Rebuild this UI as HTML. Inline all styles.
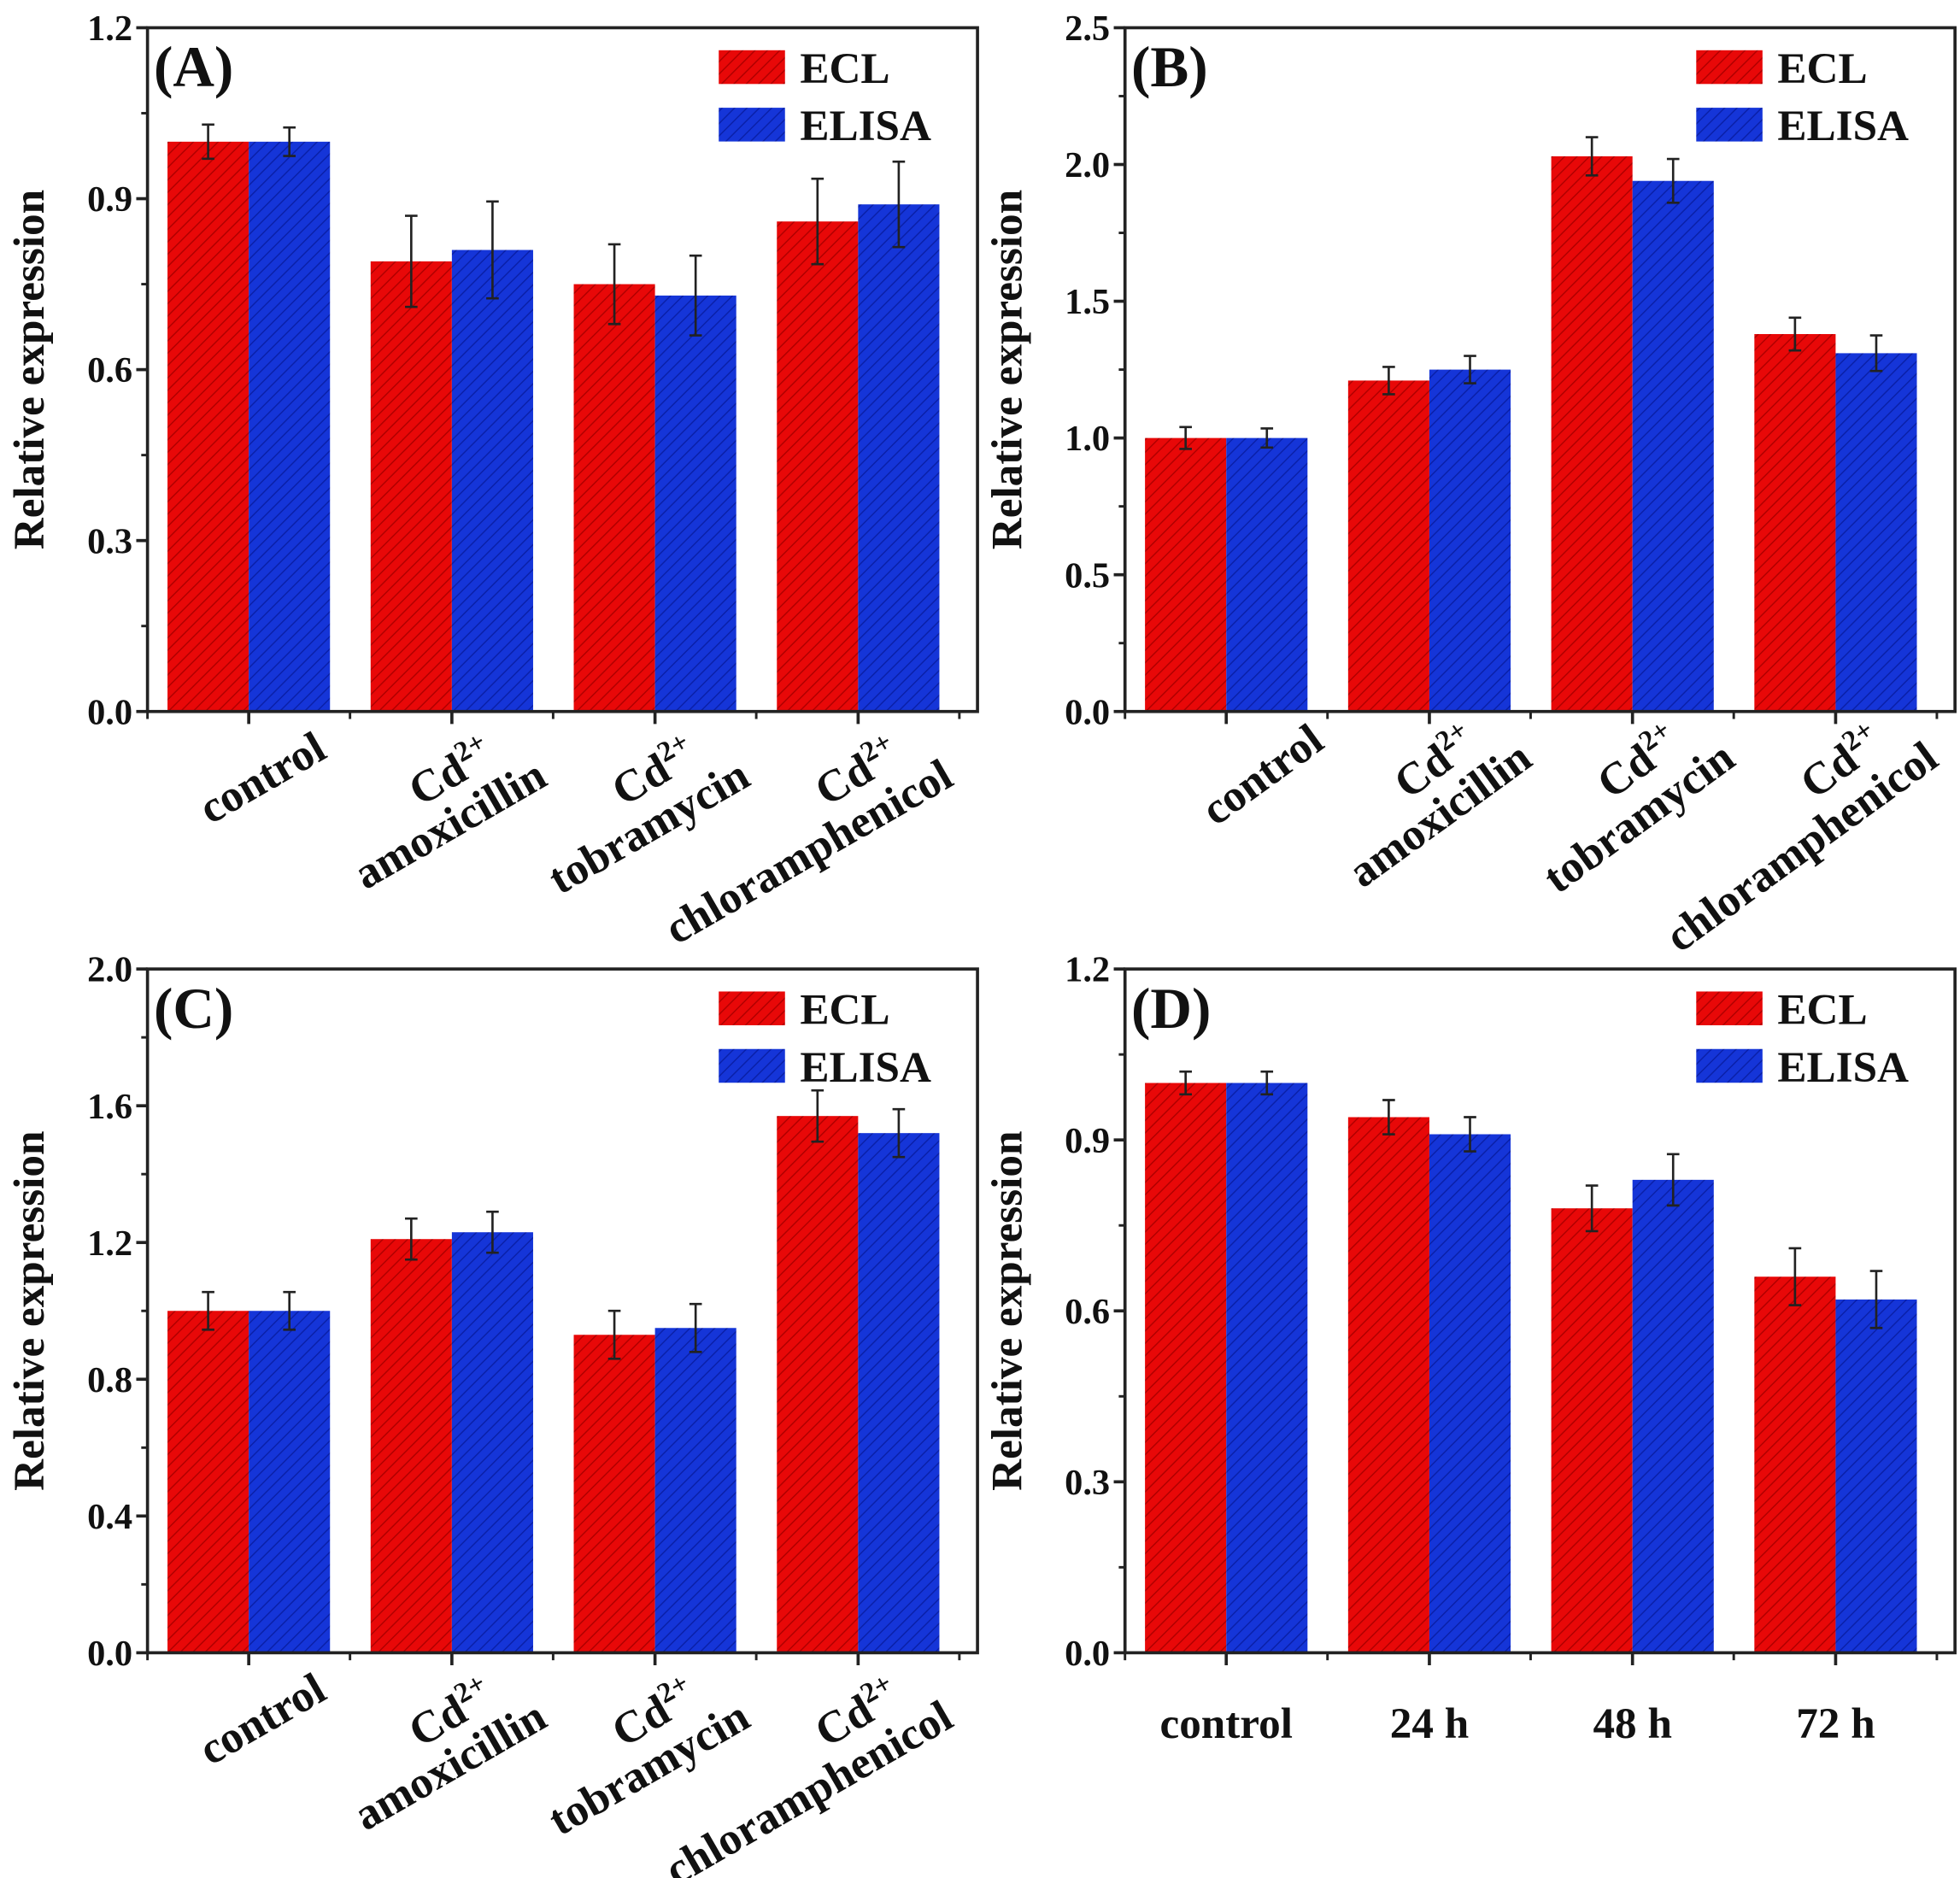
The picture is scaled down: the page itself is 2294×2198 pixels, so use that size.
<!DOCTYPE html>
<html><head><meta charset="utf-8"><style>
html,body{margin:0;padding:0;background:#fff}
svg{display:block}
text{font-family:"Liberation Serif",serif;font-weight:bold;fill:#111}
</style></head><body>
<svg id="fig" xmlns="http://www.w3.org/2000/svg" width="2294" height="2198" viewBox="0 0 1568 1502">
<defs>
<pattern id="hatchR" patternUnits="userSpaceOnUse" width="7" height="7" patternTransform="rotate(45)">
<rect width="7" height="7" fill="#e80808"/><line x1="0" y1="0" x2="0" y2="7" stroke="#b00000" stroke-width="2"/></pattern>
<pattern id="hatchB" patternUnits="userSpaceOnUse" width="7" height="7" patternTransform="rotate(45)">
<rect width="7" height="7" fill="#1535d8"/><line x1="0" y1="0" x2="0" y2="7" stroke="#0a20a8" stroke-width="2"/></pattern>
</defs>
</svg>
<script>
const catsDrug = [["control"],["Cd2+","amoxicillin"],["Cd2+","tobramycin"],["Cd2+","chloramphenicol"]];
const catsTime = ["control","24 h","48 h","72 h"];
const eclA = [1.0,0.79,0.75,0.86];
const eclAErr = [0.03,0.08,0.07,0.075];
const elisaA = [1.0,0.81,0.73,0.89];
const elisaAErr = [0.025,0.085,0.07,0.075];
const eclB = [1.0,1.21,2.03,1.38];
const eclBErr = [0.04,0.05,0.07,0.06];
const elisaB = [1.0,1.25,1.94,1.31];
const elisaBErr = [0.035,0.05,0.08,0.065];
const eclC = [1.0,1.21,0.93,1.57];
const eclCErr = [0.055,0.06,0.07,0.075];
const elisaC = [1.0,1.23,0.95,1.52];
const elisaCErr = [0.055,0.06,0.07,0.07];
const eclD = [1.0,0.94,0.78,0.66];
const eclDErr = [0.02,0.03,0.04,0.05];
const elisaD = [1.0,0.91,0.83,0.62];
const elisaDErr = [0.02,0.03,0.045,0.05];
const ticksA = ["0.0","0.3","0.6","0.9","1.2"];
const ticksB = ["0.0","0.5","1.0","1.5","2.0","2.5"];
const ticksC = ["0.0","0.4","0.8","1.2","1.6","2.0"];
const ticksD = ["0.0","0.3","0.6","0.9","1.2"];

const NS="http://www.w3.org/2000/svg";
const svg=document.getElementById('fig');
function mk(tag,attrs,parent){const e=document.createElementNS(NS,tag);for(const k in attrs)e.setAttribute(k,attrs[k]);(parent||svg).appendChild(e);return e;}

function panel(p){
  const g=mk('g',{});
  
  
  const L=p.x,R=p.x+664,T=p.y,B=p.y+547;
  const ymax=parseFloat(p.ticks[p.ticks.length-1]);
  const ys=v=>B-(v/ymax)*(B-T);
  const xc=i=>L+81+i*162.5;
  const bw=65;
  const series=[{v:p.ecl,e:p.eclErr,f:'url(#hatchR)',n:'ecl',o:-1},{v:p.elisa,e:p.elisaErr,f:'url(#hatchB)',n:'elisa',o:0}];
  series.forEach(s=>{
    s.v.forEach((v,i)=>{
      const x=xc(i)+s.o*bw;
      const r=mk('rect',{x:x,y:ys(v),width:bw,height:B-ys(v),fill:s.f},g);
      
      
      const cx=x+bw/2, hi=ys(v+s.e[i]), lo=ys(v-s.e[i]);
      const eb=mk('path',{d:`M${cx},${hi}V${lo}M${cx-5},${hi}H${cx+5}M${cx-5},${lo}H${cx+5}`,stroke:'#222','stroke-width':1.8,fill:'none'},g);
      
      
    });
  });
  const fr=mk('rect',{x:L,y:T,width:R-L,height:B-T,fill:'none',stroke:'#222','stroke-width':2.5},g);
  
  
  p.ticks.forEach((t,k)=>{
    const v=parseFloat(t), y=ys(v);
    mk('line',{x1:L-9,x2:L,y1:y,y2:y,stroke:'#222','stroke-width':2.5},g);
    if(k<p.ticks.length-1){const ym=ys(v+ymax/(p.ticks.length-1)/2);mk('line',{x1:L-5,x2:L,y1:ym,y2:ym,stroke:'#222','stroke-width':2},g);}
    const tx=mk('text',{x:L-12,y:y+10,'text-anchor':'end','font-size':29},g);
    tx.textContent=t;
    
    
  });
  for(let i=0;i<4;i++){
    mk('line',{x1:xc(i),x2:xc(i),y1:B,y2:B+10,stroke:'#222','stroke-width':2.5},g);
    mk('line',{x1:xc(i)+81,x2:xc(i)+81,y1:B,y2:B+6,stroke:'#222','stroke-width':2},g);
  }
  mk('line',{x1:L,x2:L,y1:B,y2:B+6,stroke:'#222','stroke-width':2},g);
  const yt=mk('text',{x:0,y:0,'text-anchor':'middle','font-size':35,transform:`translate(${L-83},${(T+B)/2}) rotate(-90)`},g);
  yt.textContent='Relative expression';
  
  
  const pl=mk('text',{x:L+5,y:T+47,'font-size':46},g);
  pl.textContent='('+p.id+')';
  
  
  [['ECL','url(#hatchR)'],['ELISA','url(#hatchB)']].forEach((l,k)=>{
    const lx=R-207, ly=T+18+k*46;
    const lr=mk('rect',{x:lx,y:ly,width:53,height:27,fill:l[1]},g);
    
    
    const lt=mk('text',{x:lx+65,y:ly+26,'font-size':35},g);
    lt.textContent=l[0];
    
    
  });
  if(p.time){
    catsTime.forEach((c,i)=>{
      const t=mk('text',{x:xc(i),y:B+68,'text-anchor':'middle','font-size':35},g);
      t.textContent=c;
      
      
    });
  } else {
    catsDrug.forEach((c,i)=>{
      const tx=c.length===1?p.cx1:p.cx2, ty=c.length===1?p.cy1:p.cy2;
      const lg=mk('g',{transform:`translate(${xc(i)+tx},${B+ty}) rotate(${p.rot})`},g);
      
      
      if(c.length===1){
        const t=mk('text',{x:0,y:0,'text-anchor':'end','font-size':36},lg);t.textContent=c[0];
      } else {
        const t1=mk('text',{x:-28,y:-36,'text-anchor':'end','font-size':36},lg);
        t1.textContent='Cd';
        const sup=mk('tspan',{dy:-14,'font-size':23},t1);sup.textContent='2+';
        const t2=mk('text',{x:0,y:0,'text-anchor':'end','font-size':36},lg);t2.textContent=c[1];
      }
    });
  }
}
panel({id:'A',x:118,y:22,ticks:ticksA,ecl:eclA,eclErr:eclAErr,elisa:elisaA,elisaErr:elisaAErr,rot:-30,cx1:64,cy1:36,cx2:78,cy2:58});
panel({id:'B',x:900,y:22,ticks:ticksB,ecl:eclB,eclErr:eclBErr,elisa:elisaB,elisaErr:elisaBErr,rot:-36,cx1:80,cy1:28,cx2:84,cy2:42});
panel({id:'C',x:118,y:775,ticks:ticksC,ecl:eclC,eclErr:eclCErr,elisa:elisaC,elisaErr:elisaCErr,rot:-30,cx1:64,cy1:36,cx2:78,cy2:58});
panel({id:'D',x:900,y:775,ticks:ticksD,ecl:eclD,eclErr:eclDErr,elisa:elisaD,elisaErr:elisaDErr,time:true});
</script>
</body></html>
